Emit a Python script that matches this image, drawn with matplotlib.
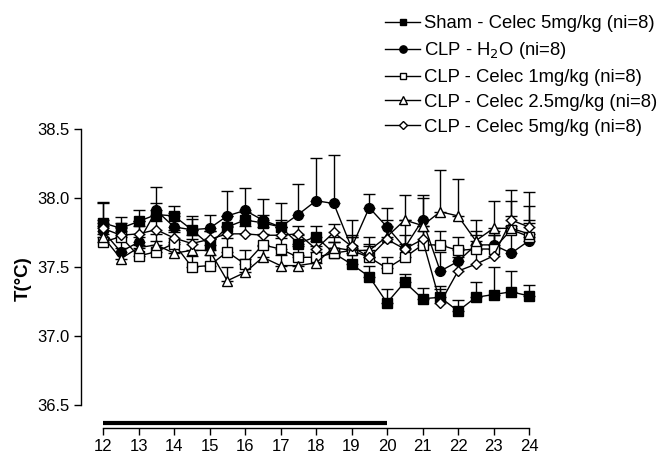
import matplotlib
matplotlib.use("Agg")
import matplotlib.pyplot as plt
import numpy as np

plt.rcParams['font.family'] = ['Liberation Sans', 'DejaVu Sans']

hours = [12, 12.5, 13, 13.5, 14, 14.5, 15, 15.5, 16, 16.5, 17, 17.5, 18,
         18.5, 19, 19.5, 20, 20.5, 21, 21.5, 22, 22.5, 23, 23.5, 24]

sham_celec5 = [37.82, 37.78, 37.83, 37.88, 37.87, 37.77, 37.66, 37.79, 37.84, 37.82,
               37.79, 37.67, 37.72, 37.60, 37.52, 37.43, 37.24, 37.39, 37.27, 37.28,
               37.18, 37.28, 37.30, 37.32, 37.29]
sham_celec5_err = [0.15, 0.08, 0.08, 0.08, 0.07, 0.08, 0.10, 0.08, 0.06, 0.06,
                   0.05, 0.06, 0.08, 0.08, 0.08, 0.08, 0.10, 0.06, 0.08, 0.08,
                   0.08, 0.11, 0.20, 0.15, 0.08]

clp_h2o = [37.76, 37.61, 37.68, 37.91, 37.79, 37.77, 37.78, 37.87, 37.91, 37.84,
           37.79, 37.88, 37.98, 37.96, 37.64, 37.93, 37.79, 37.64, 37.84, 37.47,
           37.54, 37.66, 37.66, 37.60, 37.69]
clp_h2o_err = [0.20, 0.15, 0.15, 0.17, 0.10, 0.10, 0.10, 0.18, 0.16, 0.15,
               0.17, 0.22, 0.31, 0.35, 0.20, 0.10, 0.14, 0.20, 0.18, 0.14,
               0.10, 0.10, 0.10, 0.20, 0.15]

clp_celec1 = [37.68, 37.72, 37.58, 37.61, 37.67, 37.50, 37.51, 37.61, 37.52, 37.66,
              37.63, 37.57, 37.57, 37.60, 37.62, 37.57, 37.49, 37.57, 37.66, 37.66,
              37.62, 37.63, 37.63, 37.77, 37.72]
clp_celec1_err = [0.06, 0.10, 0.08, 0.08, 0.08, 0.08, 0.08, 0.10, 0.10, 0.08,
                  0.08, 0.08, 0.08, 0.08, 0.10, 0.08, 0.08, 0.10, 0.10, 0.10,
                  0.10, 0.10, 0.10, 0.10, 0.10]

clp_celec25 = [37.72, 37.56, 37.64, 37.66, 37.60, 37.62, 37.62, 37.40, 37.46, 37.57,
               37.51, 37.51, 37.53, 37.64, 37.62, 37.62, 37.72, 37.84, 37.80, 37.90,
               37.87, 37.69, 37.78, 37.78, 37.74]
clp_celec25_err = [0.08, 0.08, 0.08, 0.08, 0.08, 0.08, 0.08, 0.10, 0.10, 0.08,
                   0.08, 0.08, 0.08, 0.08, 0.10, 0.10, 0.12, 0.18, 0.20, 0.30,
                   0.27, 0.15, 0.20, 0.20, 0.30]

clp_celec5 = [37.78, 37.73, 37.74, 37.77, 37.71, 37.67, 37.70, 37.74, 37.74, 37.73,
              37.73, 37.74, 37.63, 37.75, 37.65, 37.57, 37.70, 37.63, 37.70, 37.24,
              37.47, 37.52, 37.58, 37.84, 37.79]
clp_celec5_err = [0.06, 0.06, 0.06, 0.06, 0.06, 0.06, 0.06, 0.06, 0.06, 0.06,
                  0.06, 0.06, 0.06, 0.06, 0.08, 0.10, 0.10, 0.10, 0.10, 0.10,
                  0.10, 0.10, 0.15, 0.22, 0.15]

labels = ["Sham - Celec 5mg/kg (ni=8)",
          "CLP - H$_2$O (ni=8)",
          "CLP - Celec 1mg/kg (ni=8)",
          "CLP - Celec 2.5mg/kg (ni=8)",
          "CLP - Celec 5mg/kg (ni=8)"]

y_ticks = [36.5, 37.0, 37.5, 38.0, 38.5]
x_ticks = list(range(12, 25))
dark_period = [12, 20]

series = [
    (sham_celec5, sham_celec5_err, 's', 'black', 6.5),
    (clp_h2o, clp_h2o_err, 'o', 'black', 7.0),
    (clp_celec1, clp_celec1_err, 's', 'white', 6.5),
    (clp_celec25, clp_celec25_err, '^', 'white', 7.5),
    (clp_celec5, clp_celec5_err, 'D', 'white', 5.5),
]

W, H = 662, 454
fig = plt.figure(figsize=(W / 100, H / 100), dpi=100)
ax = fig.add_axes([81 / W, 1 - 428 / H, (529 - 81) / W, (428 - 129) / H])

handles = []
for vals, err, mk, fc, ms in series:
    v = np.array(vals)
    e = np.array(err)
    ax.errorbar(hours, v, yerr=[np.zeros_like(e), e], fmt='none', ecolor='black',
                elinewidth=1.0, capsize=4, capthick=1.0, zorder=2, clip_on=False)
    h, = ax.plot(hours, v, color='black', lw=1.0, marker=mk, markersize=ms,
                 markerfacecolor=fc, markeredgecolor='black', markeredgewidth=1.0,
                 zorder=3, clip_on=False)
    handles.append(h)

ax.set_xlim(12 - 22 / 35.5, 24)
ax.set_ylim(36.5 - 23 / 137.5, 38.5)
ax.spines['top'].set_visible(False)
ax.spines['right'].set_visible(False)
ax.spines['left'].set_bounds(36.5, 38.5)
ax.spines['bottom'].set_bounds(12, 24)
for s in ['left', 'bottom']:
    ax.spines[s].set_linewidth(1.0)
ax.set_yticks(y_ticks)
ax.set_yticklabels([f"{t:.1f}" for t in y_ticks])
ax.set_xticks(x_ticks)
ax.set_xticklabels([str(t) for t in x_ticks])
ax.tick_params(axis='both', direction='out', length=5, width=1.0, labelsize=12,
               colors='black', pad=3)
ax.set_ylabel("T(°C)", fontsize=13.5, fontweight='bold', labelpad=4)

ax.plot(dark_period, [36.5 - 18 / 137.5] * 2, color='black', lw=3, solid_capstyle='butt',
        clip_on=False)

fig.legend(handles, labels, loc='center left',
           bbox_to_anchor=(385 / W, 1 - 75.5 / H), frameon=False, fontsize=13.3,
           handlelength=1.9, handletextpad=0.2, labelspacing=0.42, borderpad=0,
           markerscale=0.75, borderaxespad=0)

fig.savefig("out.png", dpi=100)
